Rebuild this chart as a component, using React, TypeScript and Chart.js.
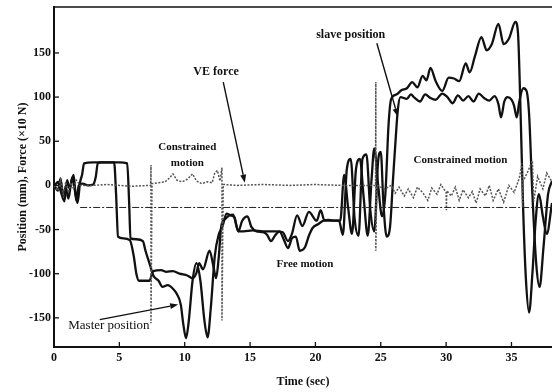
import React, { useEffect, useRef } from 'react';
import { Chart, registerables } from 'chart.js';

Chart.register(...registerables);

const X_MIN = 0;
const X_MAX = 38.1;
const Y_MIN = -183;
const Y_MAX = 202;

const xTickValues = [0, 5, 10, 15, 20, 25, 30, 35];
const yTickValues = [-150, -100, -50, 0, 50, 100, 150];

const masterPosition: [number, number][] = [
  [0, -2], [0.3, 4], [0.5, -6], [0.8, -18], [1.0, 6], [1.2, -4], [1.4, 9], [1.6, -6], [1.8, -20], [2.0, 4],
  [2.15, 12], [2.3, 25], [3, 26], [4, 26], [5, 26], [5.6, 25], [5.75, -20], [5.85, -60], [6.3, -61], [6.8, -63],
  [7.0, -74], [7.3, -88], [7.6, -102], [8.0, -108], [8.3, -115], [8.7, -113], [9.1, -117], [9.4, -123], [9.7, -135],
  [9.9, -158], [10.1, -173], [10.3, -155], [10.6, -108], [10.9, -88], [11.2, -108], [11.5, -152], [11.75, -172],
  [12.0, -138], [12.3, -80], [12.6, -56], [12.9, -46], [13.2, -32], [13.5, -34], [13.8, -36], [14.1, -52], [14.4, -40],
  [14.8, -35], [15.1, -47], [15.5, -52], [16.0, -53], [16.3, -56], [16.6, -63], [16.9, -57], [17.25, -52], [17.6, -62],
  [17.9, -71], [18.2, -60], [18.5, -58], [18.8, -74], [19.2, -70], [19.5, -57], [19.8, -48], [20.2, -44], [20.6, -40],
  [21.0, -39], [21.5, -40], [21.9, -40], [22.2, 12], [22.5, -25], [22.8, -55], [23.1, 18], [23.4, 30], [23.7, -15],
  [24.0, -57], [24.3, 8], [24.5, 42], [24.8, 0], [25.1, -35], [25.35, -10], [25.6, 70], [25.8, 98], [26.2, 103],
  [26.6, 108], [27.0, 110], [27.4, 117], [27.8, 111], [28.2, 124], [28.5, 119], [28.8, 133], [29.2, 118], [29.7, 107],
  [30.2, 122], [30.6, 121], [31.0, 118], [31.5, 138], [31.8, 128], [32.2, 146], [32.7, 168], [33.1, 153], [33.5, 160],
  [34.0, 183], [34.4, 160], [34.8, 166], [35.3, 185], [35.5, 172], [35.7, 80], [35.9, -30], [36.1, -105], [36.35, -144],
  [36.6, -100], [36.85, -40], [37.1, -10], [37.4, -35], [37.7, -55], [38.1, -20],
];

const slavePosition: [number, number][] = [
  [0, 1], [0.3, -6], [0.5, 8], [0.7, -12], [0.9, -2], [1.1, -15], [1.3, 2], [1.5, 12], [1.7, -17], [1.9, 0],
  [2.2, 2], [2.6, 0], [3.0, 1], [3.2, 10], [3.35, 25], [3.6, 26], [4.6, 26], [4.75, -10], [4.9, -58], [5.3, -60],
  [5.8, -62], [6.1, -80], [6.3, -100], [6.5, -108], [7.3, -108], [7.6, -97], [8.2, -96], [8.6, -98], [9.1, -97],
  [9.6, -100], [10.2, -102], [10.6, -105], [10.9, -99], [11.1, -88], [11.4, -95], [11.9, -74], [12.2, -92], [12.4, -105],
  [12.6, -82], [12.8, -46], [13.1, -38], [13.4, -34], [13.7, -33], [14.1, -52], [14.5, -52], [15.2, -51], [16.0, -52],
  [17.0, -52], [17.5, -53], [17.9, -63], [18.2, -55], [18.6, -34], [19.0, -46], [19.5, -30], [20.1, -40], [20.4, -28],
  [20.7, -40], [21.2, -40], [21.8, -40], [22.1, -56], [22.4, 18], [22.7, 30], [23.0, -38], [23.3, -57], [23.6, 30],
  [23.9, 35], [24.2, -28], [24.5, -52], [24.8, 28], [25.0, 38], [25.2, -20], [25.45, -58], [25.7, -48], [25.95, 10],
  [26.15, 55], [26.3, 85], [26.5, 100], [27.0, 98], [27.3, 103], [27.6, 99], [28.0, 95], [28.4, 103], [28.8, 99],
  [29.2, 97], [29.7, 104], [30.1, 100], [30.5, 93], [30.9, 102], [31.3, 96], [31.7, 101], [32.1, 95], [32.5, 104],
  [32.9, 99], [33.3, 96], [33.7, 101], [34.0, 92], [34.2, 77], [34.45, 95], [34.7, 100], [35.0, 97], [35.2, 90],
  [35.4, 77], [35.6, 95], [35.9, 110], [36.15, 107], [36.35, 80], [36.6, -10], [36.9, -90], [37.15, -115],
  [37.45, -70], [37.8, -10], [38.1, 5],
];

const veForce: [number, number][] = [
  [0, 0], [0.3, -6], [0.5, 6], [0.7, -10], [0.9, 4], [1.1, -8], [1.3, 3], [1.5, -4], [1.7, 6], [2.0, 0],
  [3, 0], [4, 1], [5, 0], [6, -1], [7.4, 0], [7.42, 23], [7.42, -156], [7.5, 2], [8.0, 3], [8.5, 4],
  [8.8, 8], [9.1, 13], [9.4, 6], [9.8, 4], [10.2, 7], [10.6, 13], [10.9, 5], [11.3, 2], [11.7, 4], [12.1, 3],
  [12.3, 14], [12.5, 17], [12.7, 5], [12.85, 20], [12.85, -153], [12.95, 1], [14, 0], [16, 1], [18, 0], [20, 1],
  [22, 0], [24.6, 0], [24.62, 117], [24.62, -74], [24.7, 0], [25.3, -4], [25.8, 0], [26.1, -9], [26.4, -2],
  [26.8, -12], [27.1, -4], [27.5, -14], [27.8, -2], [28.2, -8], [28.6, -17], [28.9, -3], [29.3, -10], [29.6, 1],
  [30.0, -8], [30.02, -28], [30.05, -6], [30.4, -12], [30.7, -2], [31.0, -17], [31.3, -5], [31.7, -14], [32.0, -7],
  [32.3, -20], [32.6, -4], [33.0, -12], [33.3, 0], [33.6, -17], [34.0, -4], [34.4, -19], [34.8, 0], [35.2, -8],
  [35.6, 8], [35.8, 25], [35.85, -25], [35.9, 5], [36.2, 14], [36.6, 28], [36.7, -18], [37.0, 10], [37.4, -4],
  [37.7, 14], [38.1, 4],
];

const referenceLevel: [number, number][] = [[2, -25], [38.1, -25]];

const labelTexts = ['VE force', 'slave position', 'Master position', 'Constrained', 'motion', 'Free motion', 'Constrained motion'];
const labelAnchors: [number, number][] = [[12.4, 128], [22.7, 170], [4.2, -159], [10.2, 43], [10.2, 25], [19.2, -89], [31.1, 29]];
const arrowStarts: [number, number][] = [[12.95, 117], [24.7, 161], [3.5, -152]];
const arrowEnds: [number, number][] = [[14.6, 3], [26.3, 78], [9.5, -135]];

const SERIF = '"Liberation Serif", "DejaVu Serif", serif';

const toXY = (arr: [number, number][]) => arr.map(([x, y]) => ({ x, y }));

const framePlugin = {
  id: 'frame',
  afterDatasetsDraw(chart: any) {
    const { ctx, chartArea, scales } = chart;
    const xs = scales.x;
    const ys = scales.y;
    ctx.save();
    ctx.strokeStyle = '#111';
    ctx.lineWidth = 1.5;
    ctx.beginPath();
    ctx.moveTo(chartArea.left, chartArea.top);
    ctx.lineTo(chartArea.right, chartArea.top);
    ctx.stroke();
    ctx.lineWidth = 1.3;
    xTickValues.forEach((v) => {
      const px = xs.getPixelForValue(v);
      ctx.beginPath();
      ctx.moveTo(px, chartArea.bottom);
      ctx.lineTo(px, chartArea.bottom - 5);
      ctx.stroke();
    });
    yTickValues.forEach((v) => {
      const py = ys.getPixelForValue(v);
      ctx.beginPath();
      ctx.moveTo(chartArea.left, py);
      ctx.lineTo(chartArea.left + 5, py);
      ctx.stroke();
    });

    // annotations
    ctx.fillStyle = '#111';
    ctx.textAlign = 'center';
    ctx.textBaseline = 'middle';
    labelTexts.forEach((t, i) => {
      const [lx, ly] = labelAnchors[i];
      let font = `bold 11px ${SERIF}`;
      if (t === 'VE force' || t === 'slave position') font = `bold 12px ${SERIF}`;
      if (t === 'Master position') font = `13px ${SERIF}`;
      ctx.font = font;
      ctx.fillText(t, xs.getPixelForValue(lx), ys.getPixelForValue(ly));
    });

    ctx.lineWidth = 1.4;
    arrowStarts.forEach((s, i) => {
      const e = arrowEnds[i];
      const x1 = xs.getPixelForValue(s[0]);
      const y1 = ys.getPixelForValue(s[1]);
      const x2 = xs.getPixelForValue(e[0]);
      const y2 = ys.getPixelForValue(e[1]);
      const ang = Math.atan2(y2 - y1, x2 - x1);
      const len = 8;
      const hw = 3;
      const bx = x2 - len * Math.cos(ang);
      const by = y2 - len * Math.sin(ang);
      ctx.beginPath();
      ctx.moveTo(x1, y1);
      ctx.lineTo(bx, by);
      ctx.stroke();
      ctx.beginPath();
      ctx.moveTo(x2, y2);
      ctx.lineTo(bx + hw * Math.sin(ang), by - hw * Math.cos(ang));
      ctx.lineTo(bx - hw * Math.sin(ang), by + hw * Math.cos(ang));
      ctx.closePath();
      ctx.fill();
    });
    ctx.restore();
  },
};

export default function App() {
  const ref = useRef<HTMLCanvasElement | null>(null);

  useEffect(() => {
    if (!ref.current) return;
    const chart = new Chart(ref.current, {
      type: 'line',
      data: {
        datasets: [
          {
            label: 'Reference level',
            data: toXY(referenceLevel),
            borderColor: '#222',
            borderWidth: 1,
            borderDash: [7, 2, 2, 2],
            pointRadius: 0,
            tension: 0,
          },
          {
            label: 'VE force',
            data: toXY(veForce),
            borderColor: '#555',
            borderWidth: 1.5,
            borderDash: [2, 1.5],
            pointRadius: 0,
            tension: 0,
          },
          {
            label: 'Slave position',
            data: toXY(slavePosition),
            borderColor: '#111',
            borderWidth: 2.3,
            pointRadius: 0,
            cubicInterpolationMode: 'monotone',
          },
          {
            label: 'Master position',
            data: toXY(masterPosition),
            borderColor: '#111',
            borderWidth: 2.3,
            pointRadius: 0,
            cubicInterpolationMode: 'monotone',
          },
        ],
      },
      options: {
        animation: false,
        responsive: false,
        layout: { padding: { top: 7, right: 0, left: 0, bottom: 0 } },
        plugins: { legend: { display: false }, tooltip: { enabled: false } },
        scales: {
          x: {
            type: 'linear',
            min: X_MIN,
            max: X_MAX,
            grid: { display: false, drawTicks: false },
            border: { display: true, color: '#111', width: 2 },
            ticks: {
              stepSize: 5,
              padding: 4,
              color: '#111',
              font: { family: SERIF, size: 12, weight: 'bold' },
              includeBounds: false,
            },
            afterBuildTicks: (scale: any) => {
              scale.ticks = xTickValues.map((v) => ({ value: v }));
            },
            afterFit: (scale: any) => {
              scale.height = 45;
            },
            title: {
              display: true,
              text: 'Time (sec)',
              color: '#111',
              font: { family: SERIF, size: 12, weight: 'bold' },
              padding: { top: 0, bottom: 3 },
            },
          },
          y: {
            type: 'linear',
            min: Y_MIN,
            max: Y_MAX,
            grid: { display: false, drawTicks: false },
            border: { display: true, color: '#111', width: 2 },
            ticks: {
              stepSize: 50,
              padding: 3,
              color: '#111',
              font: { family: SERIF, size: 12, weight: 'bold' },
              includeBounds: false,
            },
            afterBuildTicks: (scale: any) => {
              scale.ticks = yTickValues.map((v) => ({ value: v }));
            },
            afterFit: (scale: any) => {
              scale.width = 54;
              scale.paddingTop = 0;
              scale.paddingBottom = 0;
            },
            title: {
              display: true,
              text: 'Position (mm), Force (×10 N)',
              color: '#111',
              font: { family: SERIF, size: 12, weight: 'bold' },
              padding: { top: 16, bottom: 0 },
            },
          },
        },
      },
      plugins: [framePlugin],
    } as any);
    return () => chart.destroy();
  }, []);

  return (
    <div style={{ position: 'absolute', left: 0, top: 0, width: 552, height: 392, background: '#fff' }}>
      <canvas ref={ref} width={552} height={392} style={{ display: 'block', width: 552, height: 392 }} />
    </div>
  );
}
